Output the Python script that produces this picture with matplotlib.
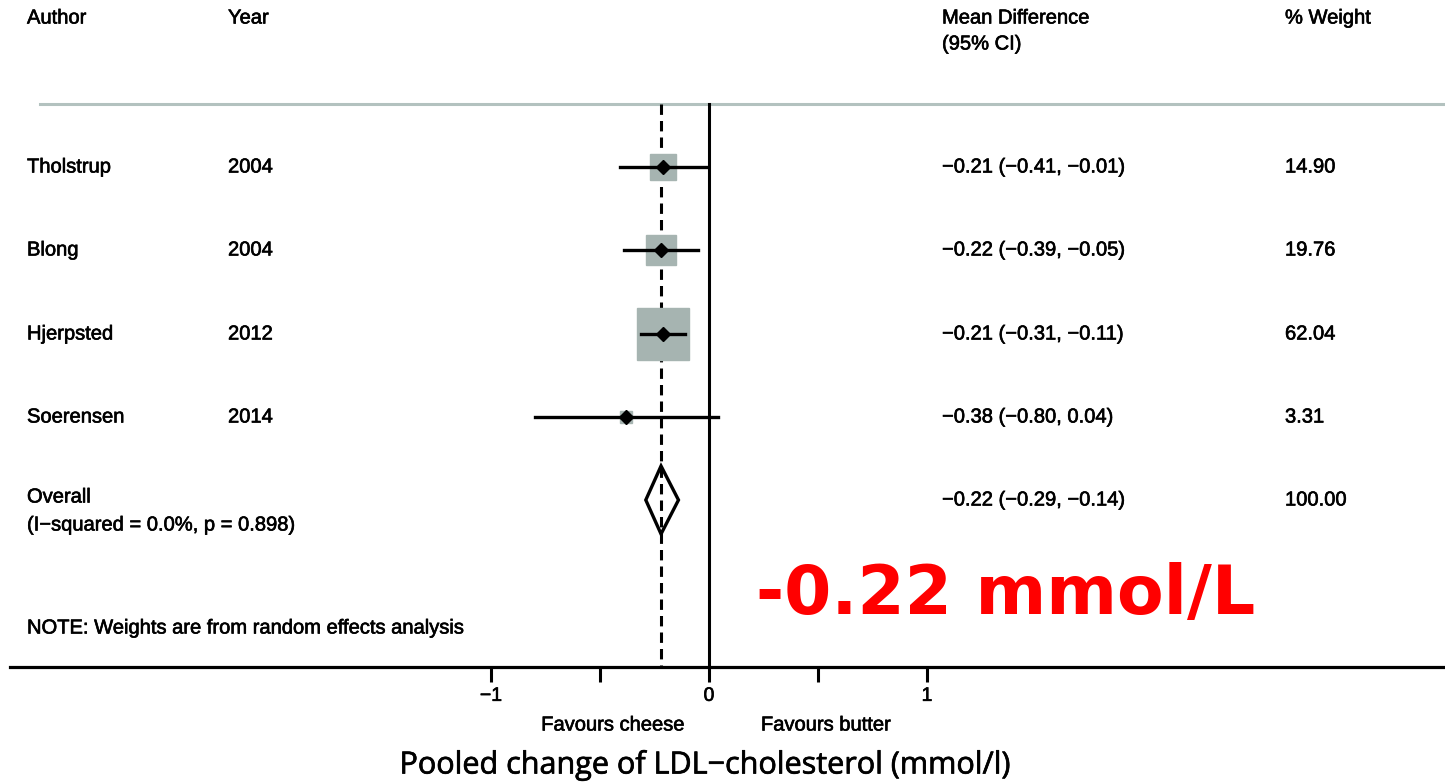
import matplotlib.pyplot as plt
import matplotlib.patheffects as pe
from matplotlib.patches import Rectangle, Polygon

# data
authors = ["Tholstrup", "Blong", "Hjerpsted", "Soerensen"]
years = ["2004", "2004", "2012", "2014"]
md = [-0.21, -0.22, -0.21, -0.38]
lo = [-0.41, -0.39, -0.31, -0.80]
hi = [-0.01, -0.05, -0.11, 0.04]
weights = [14.90, 19.76, 62.04, 3.31]
overall = [-0.22, -0.29, -0.14]
overall_w = 100.00
i2_text = "(I\u2212squared = 0.0%, p = 0.898)"

W, H = 1445, 782
PX = 218.0  # pixels per unit
fig = plt.figure(figsize=(W / 100, H / 100), dpi=100)
ax = fig.add_axes([10 / W, (H - 667) / H, 1435 / W, 667 / H])
ax.set_xlim((10 - 709) / PX, (1445 - 709) / PX)
ax.set_ylim(667, 0)
for s in ["top", "right", "left"]:
    ax.spines[s].set_visible(False)
ax.spines["bottom"].set_linewidth(2.3)
ax.set_yticks([])
ax.set_xticks([-1, -0.5, 0, 0.5, 1])
ax.set_xticklabels(["\u22121", "", "0", "", "1"])
ax.tick_params(axis="x", length=11, width=2.2, pad=4, labelsize=14)

font = "Liberation Sans"
fs = 14.5
thick = [pe.Stroke(linewidth=0.45, foreground="black"), pe.Normal()]
for t in ax.get_xticklabels():
    t.set_fontfamily(font)
    t.set_path_effects(thick)
hx = lambda p: (p - 709) / PX  # pixel x to data x for text columns


def txt(px, y, s, **kw):
    ax.text(hx(px), y, s, family=font, fontsize=fs, va="center",
            path_effects=thick, clip_on=False, **kw)


# header
txt(27, 18, "Author")
txt(228, 18, "Year")
txt(942, 18, "Mean Difference")
txt(942, 44, "(95% CI)")
txt(1285, 18, "% Weight")
ax.plot([hx(40), hx(1445)], [104, 104], color="#b3c2bf", lw=2.2, clip_on=False)

# reference lines
ax.plot([0, 0], [104, 667], color="black", lw=2.2)
ax.plot([overall[0]] * 2, [104, 667], color="black", lw=2.2, ls=(0, (3.4, 2.0)))

row_y = [167, 250, 334, 417]
for i in range(len(authors)):
    y = row_y[i]
    s = 6.6 * weights[i] ** 0.5
    ax.add_patch(Rectangle((md[i] - s / 2 / PX, y - s / 2), s / PX, s,
                           color="#a6b4b1", zorder=2))
    ax.plot([lo[i], hi[i]], [y, y], color="black", lw=2.4, zorder=3)
    ax.plot(md[i], y, marker="D", color="black", ms=7, zorder=4)
    txt(27, y, authors[i])
    txt(228, y, years[i])
    hi_s = ("\u2212%.2f" % abs(hi[i])) if hi[i] < 0 else "%.2f" % hi[i]
    txt(942, y, "\u2212%.2f (\u2212%.2f, %s)" % (abs(md[i]), abs(lo[i]), hi_s))
    txt(1285, y, "%.2f" % weights[i])

# overall
oy = 500
ax.add_patch(Polygon([[overall[1], oy], [overall[0], oy - 34], [overall[2], oy],
                      [overall[0], oy + 34]], closed=True, facecolor="none",
                     edgecolor="black", lw=2.4, zorder=4))
txt(27, 497, "Overall")
txt(27, 525, i2_text)
txt(942, oy, "\u2212%.2f (\u2212%.2f, \u2212%.2f)" % (abs(overall[0]), abs(overall[1]), abs(overall[2])))
txt(1285, oy, "%.2f" % overall_w)

txt(27, 628, "NOTE: Weights are from random effects analysis")

ax.text(hx(1006), 614, "-0.22 mmol/L", family="DejaVu Sans", fontweight="bold",
        fontsize=49, color="#ff0000", ha="center", va="baseline")

# bottom labels
txt(613, 725, "Favours cheese", ha="center")
txt(826, 725, "Favours butter", ha="center")
ax.text(hx(705), 765, "Pooled change of LDL\u2212cholesterol (mmol/l)", family="Open Sans",
        fontsize=22, ha="center", va="center", clip_on=False,
        path_effects=[pe.Stroke(linewidth=0.5, foreground="black"), pe.Normal()])

fig.savefig("out.png", dpi=100)
